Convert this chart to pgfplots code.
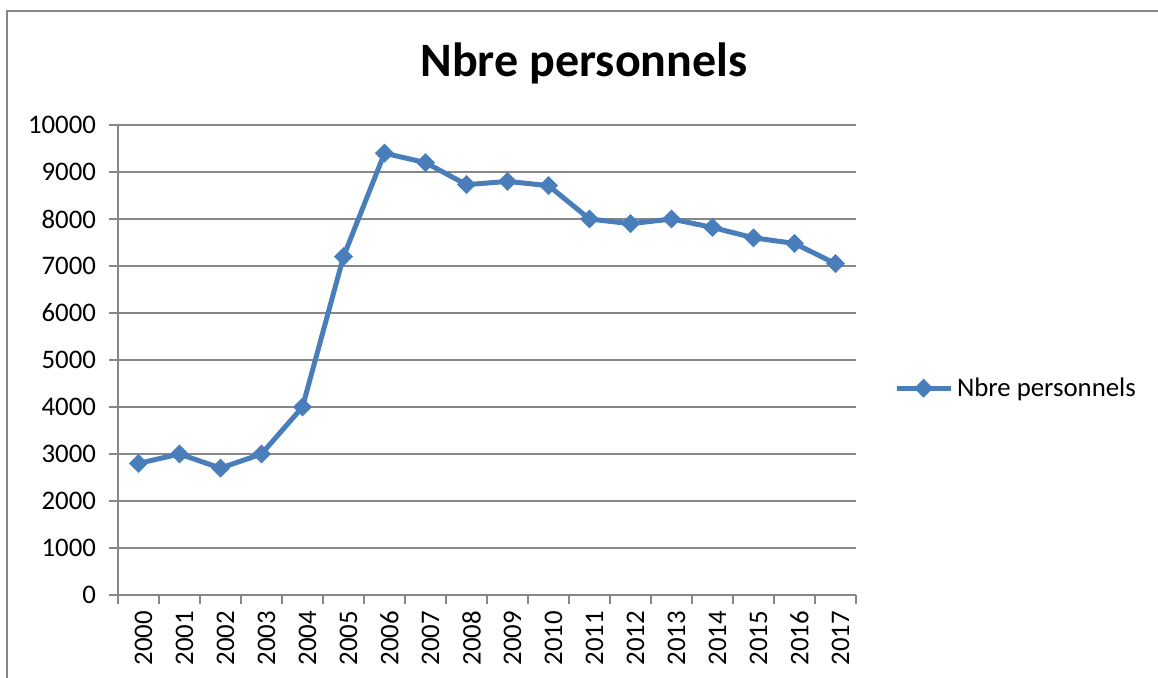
\documentclass[border=0pt]{standalone}
\usepackage{fontspec}
\setmainfont{Carlito}
\usepackage{pgfplots}
\pgfplotsset{compat=1.18}
\definecolor{exblue}{HTML}{4A7EBB}
\definecolor{gridgray}{HTML}{878787}
\begin{document}
\begin{tikzpicture}[x=0.5pt,y=0.5pt]
\useasboundingbox (0,0) rectangle (1158,677);
\draw[gridgray, line width=0.8pt] (7,-60) -- (7,666) -- (1250,666);
\node[font=\bfseries\fontsize{24}{28}\selectfont] at (584,614) {Nbre personnels};
\begin{axis}[
  at={(59pt,41pt)}, anchor=south west, scale only axis,
  width=369pt, height=235pt,
  xmin=-0.5, xmax=17.5, ymin=0, ymax=10000,
  axis x line*=bottom, axis y line*=left,
  axis line style={gridgray, line width=0.75pt},
  ytick={0,1000,...,10000},
  ymajorgrids, grid style={gridgray, line width=0.75pt},
  xtick={0,...,17},
  xticklabels={2000,2001,2002,2003,2004,2005,2006,2007,2008,2009,2010,2011,2012,2013,2014,2015,2016,2017},
  minor xtick={-0.5,0.5,...,17.5},
  tick align=outside,
  major tick length=4.5pt, minor tick length=4.5pt,
  tick style={gridgray, line width=0.75pt},
  major x tick style={draw=none},
  scaled y ticks=false,
  yticklabel style={font=\fontsize{13.4}{16}\selectfont, xshift=-3pt},
  xticklabel style={font=\fontsize{13.4}{16}\selectfont, rotate=90, anchor=east, xshift=0pt, yshift=-2.5pt},
  /pgf/number format/.cd, 1000 sep={}, assume math mode=true,
  /pgfplots/.cd,
  legend style={draw=none, fill=none, inner sep=0pt, at={(1.051,0.44)}, anchor=west,
    font=\fontsize{13.4}{16}\selectfont, cells={anchor=west}},
  legend image code/.code={\draw[mark repeat=2,mark phase=2] plot coordinates {(0pt,0pt) (13.5pt,0pt) (27pt,0pt)};},
  clip=false,
]
\addplot[exblue, line width=2.5pt, mark=square*, mark size=3.2pt,
  mark options={rotate=45, solid, line width=0.3pt, fill=exblue}]
  table {
x y
0 2800
1 3000
2 2700
3 3000
4 4000
5 7200
6 9400
7 9200
8 8730
9 8800
10 8710
11 8000
12 7900
13 8000
14 7820
15 7600
16 7480
17 7050
};
\addlegendentry{Nbre personnels}
\end{axis}
\end{tikzpicture}
\end{document}
